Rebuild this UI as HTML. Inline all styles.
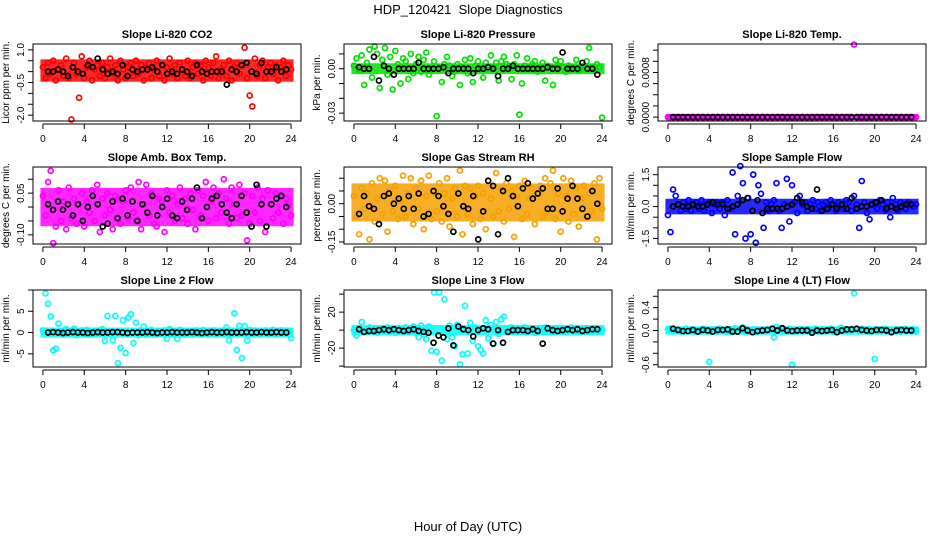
<!DOCTYPE html>
<html><head><meta charset="utf-8">
<style>
body{margin:0;background:#fff;}
svg{display:block;font-family:"Liberation Sans",Arial,sans-serif;}
.t{font-size:11px;font-weight:bold;text-anchor:middle;}
.tk{font-size:10px;text-anchor:middle;}
</style></head>
<body>
<svg id="chart" width="936" height="540" viewBox="0 0 936 540" xmlns="http://www.w3.org/2000/svg">
<text x="468" y="14" font-size="13" text-anchor="middle" xml:space="preserve">HDP_120421  Slope Diagnostics</text>
<text x="468" y="531" font-size="13" text-anchor="middle">Hour of Day (UTC)</text>
</svg>
<script>
// ---- data ----
const xTicks = [0,4,8,12,16,20,24];
const titles = ["Slope Li-820 CO2","Slope Li-820 Pressure","Slope Li-820 Temp.","Slope Amb. Box Temp.","Slope Gas Stream RH","Slope Sample Flow","Slope Line 2 Flow","Slope Line 3 Flow","Slope Line 4 (LT) Flow"];
const yTitles = ["Licor ppm per min.","kPa per min.","degrees C per min.","degrees C per min.","percent per min.","ml/min per min.","ml/min per min.","ml/min per min.","ml/min per min."];
const co2Vals=[0.2,-0.3,0.4,-0.1,0.5,-0.4,0.1,0.3,-0.2,0.6,-0.3,-2.2,0.4,-0.1,-1.2,0.7,-0.3,0.2,0.5,-0.4,0.1,0.3,-0.2,0.4,-0.3,0.2,0.6,-0.1,0.3,-0.4,0.5,0.1,-0.3,0.2,0.4,-0.2,0.5,-0.1,0.3,-0.4,0.2,0.4,-0.3,0.1,0.5,-0.2,0.3,-0.4,0.2,0.6,-0.1,0.3,-0.3,0.4,0.1,-0.2,0.5,-0.3,0.2,0.4,-0.1,0.3,-0.4,0.5,0.2,-0.2,0.4,0.7,-0.3,0.1,0.3,-0.2,0.5,-0.4,0.2,0.4,-0.1,0.3,1.1,-0.3,-1.1,-1.6,0.6,-0.2,0.3,0.5,-0.3,0.2,0.4,-0.1,0.3,-0.4,0.2,0.5,-0.2,0.3,0.1];
const co2Black=[0,0,0.1,0,-0.2,0.2,0,-0.1,0.3,0.2,0.6,0.1,-0.1,0,-0.1,0.3,-0.2,0.1,0,0.1,0.1,0.2,0,0.3,-0.1,0,-0.1,0.1,0,-0.2,0.3,0,-0.1,0,0,0,-0.6,0.1,0,0.3,0.4,0,-0.1,0.4,0,0,0.2,0,0.1];
const presVals=[0.002,0.007,-0.001,0.009,-0.011,0.004,0.013,-0.006,0.015,0.010,-0.013,0.006,0.014,-0.004,0.008,-0.014,0.012,0.003,-0.010,0.007,0.005,-0.007,0.010,-0.003,0.003,0.008,-0.002,0.006,0.011,-0.004,0,0.005,-0.032,0.001,-0.009,0.003,0.008,0.002,-0.005,-0.002,0.003,-0.011,0.001,0.006,-0.003,0.007,-0.009,0.002,0.005,0,-0.006,0.004,0.001,0.009,0.001,0.004,-0.008,0.005,0.008,0.003,0.002,-0.007,0.003,0.009,-0.031,-0.010,0.002,0.007,0.001,0.003,0.005,-0.002,0.001,0.004,-0.008,0.002,0.001,-0.011,0.006,0.002,0.005,0.001,-0.002,0.002,0.001,0,0.006,-0.001,0,0.002,0.005,0.014,0.001,0,0.003,0.001,-0.033];
const presBlack=[0.001,0,0,0.008,-0.008,0.002,0,-0.004,0,0,0,0,0.004,0,0,0,0,0.001,-0.003,0,0,0,0,-0.003,0,0,0.001,0,-0.005,0,0,0.002,0,0,0,0,0,0,0.001,0,0,0.011,0,0,0,0.004,0,0,-0.004];
const tempVals=[0,0,0,0,0,0,0,0,0,0,0,0,0,0,0,0,0,0,0,0,0,0,0,0,0,0,0,0,0,0,0,0,0,0,0,0,0,0,0,0,0,0,0,0,0,0,0,0,0,0,0,0,0,0,0,0,0,0,0,0,0,0,0,0,0,0,0,0,0,0,0,0,0.0013,0,0,0,0,0,0,0,0,0,0,0,0,0,0,0,0,0,0,0,0,0,0,0,0];
const tempBlack=[0,0,0,0,0,0,0,0,0,0,0,0,0,0,0,0,0,0,0,0,0,0,0,0,0,0,0,0,0,0,0,0,0,0,0,0,0,0,0,0,0,0,0,0,0,0,0,0,0];
const boxVals=[0.04,-0.03,0.09,0.13,-0.13,-0.07,0.06,-0.05,0.02,-0.08,0.07,-0.04,0.03,-0.06,0.01,0.05,-0.07,0.02,-0.02,0.06,-0.05,0.08,-0.09,0.03,-0.03,0.05,-0.01,-0.08,0.04,0.03,-0.06,0.02,0.06,-0.04,0.07,-0.02,-0.05,0.09,-0.08,0.01,0.08,-0.03,0.05,-0.06,-0.07,0.03,0.02,-0.09,0.06,-0.02,0.04,-0.05,0.01,0.07,-0.04,0.03,-0.06,0.05,-0.01,-0.08,0.06,-0.03,0.04,0.09,-0.05,0.02,0.07,-0.04,0.05,-0.02,0.10,0.03,-0.06,0.07,0.01,-0.04,0.08,-0.03,0.05,-0.12,-0.06,0.04,-0.02,0.07,-0.05,0.03,-0.09,0.06,0.01,-0.04,0.05,-0.02,0.04,-0.06,0.03,0.01,-0.03];
const boxBlack=[0.01,-0.01,0.02,-0.01,0.01,-0.03,0.01,-0.05,0.00,0.04,0.01,-0.07,-0.06,0.02,-0.04,0.03,-0.03,0.02,-0.05,0.01,-0.02,0.04,-0.03,0.00,0.03,-0.03,-0.04,0.02,-0.01,0.03,0.07,-0.04,0.00,0.03,0.04,0.01,-0.02,-0.04,0.01,0.04,-0.02,-0.07,0.08,0.01,-0.07,0.01,0.03,0.04,0.00];
const rhVals=[0.03,-0.05,-0.12,0.06,-0.02,0.04,-0.14,0.08,-0.07,0.02,0.10,-0.04,0.09,-0.11,0.05,-0.03,0.07,-0.06,0.01,0.11,-0.05,0.04,0.10,-0.08,0.06,-0.02,0.09,-0.10,0.03,0.11,-0.06,0.05,-0.03,0.08,-0.07,0.04,0.10,-0.09,0.02,0.06,-0.05,0.13,-0.12,0.07,-0.04,0.06,-0.08,0.03,0.07,-0.06,0.04,-0.10,0.09,0.02,-0.05,0.12,-0.03,0.06,-0.07,0.08,-0.02,0.05,-0.13,0.03,0.07,-0.06,0.09,-0.04,0.02,0.06,-0.08,0.04,0.07,-0.05,0.10,-0.03,0.08,0.13,-0.06,0.04,-0.11,0.10,0.03,-0.07,0.09,-0.04,0.06,-0.09,0.02,0.07,-0.05,0.04,-0.03,0.08,-0.14,0.10,-0.02];
const rhBlack=[-0.04,0.03,-0.01,-0.02,-0.08,0.03,0.04,0.00,0.02,-0.02,0.03,-0.02,0.04,-0.05,-0.04,0.05,0.03,-0.01,-0.04,-0.11,0.04,-0.01,-0.02,0.03,-0.14,-0.03,0.09,0.07,-0.12,0.05,0.10,0.03,-0.01,0.06,0.08,0.02,0.04,0.06,-0.02,-0.02,0.06,-0.03,0.02,0.07,0.02,-0.02,-0.05,0.05,0.00];
const flowVals=[-0.4,-1.2,0.8,0.5,0.1,-0.2,0.2,-0.1,0.3,-0.2,0.1,0.2,-0.1,0.3,-0.2,0.1,0.2,-0.3,0.1,0.2,-0.1,0.2,-0.4,0.3,-0.1,1.6,-1.3,0.5,1.9,1.1,-1.5,0.4,-1.3,1.5,-1.7,1.0,0.6,-1.0,0.2,-0.2,0.1,0.3,1.1,-0.2,-1.0,0.1,1.3,-0.7,1.0,0.2,-0.3,0.5,0.1,0.2,-0.2,0.1,0.3,-0.1,0.2,-0.2,0.1,0.2,-0.1,0.3,0.1,-0.2,0.2,0.1,-0.1,0.3,0.2,-0.2,0.5,0.1,-1.0,1.2,0.2,-0.3,-0.6,0.1,0.2,-0.1,0.3,0.1,-0.2,0.2,-0.5,0.4,0.1,-0.2,0.2,0.1,-0.1,0.2,0.1,0,0.1];
const flowBlack=[0,0.1,0,0,0.1,0,0,0.1,0.2,0.1,0.1,-0.1,0,0.1,0.3,0.4,-0.2,0.3,-0.3,-0.1,-0.1,-0.1,-0.1,0,0.1,0.4,0.2,0,-0.1,0.8,-0.2,-0.1,0.1,-0.1,0.1,-0.1,0.4,-0.1,0,0,0.1,0.2,0.3,-0.1,0,-0.1,0,0.1,0.1];
const l2Vals=[0.5,9.2,6.8,3.8,-4.2,-3.8,2.1,0.3,-0.5,0.8,-0.3,0.4,0.9,-0.6,0.3,0.5,-0.4,0.6,0.2,-0.5,0.3,-0.2,0.5,0.8,-2.0,3.9,0.3,-1.8,3.9,-7.2,-3.6,2.9,-4.8,3.5,4.3,-2.5,2.3,-0.6,0.5,1.4,-0.4,0.3,0.6,-0.5,0.2,0.4,-0.3,0.5,-1.5,0.8,-0.4,0.3,-1.5,0.6,0.4,-0.5,0.3,0.2,-0.4,0.5,0.3,-0.3,0.6,0.2,-0.4,0.3,0.5,-0.5,0.2,0.4,-0.3,1.2,-1.8,-0.4,4.5,-4.1,1.6,-6.0,1.5,-1.9,0.6,-0.3,0.5,0.2,-0.4,0.3,0.5,-0.3,0.2,0.6,-0.4,0.3,0.5,-0.2,0.4,0.3,-1.3];
const l2Black=[0,0.1,0,-0.1,0,0.1,0,0,-0.1,0,0.1,0,0,0.1,0.1,0,-0.1,0,0,0,0.1,0,-0.1,0,0,0.1,0,0,0,0.1,0,-0.1,0,0.1,0,0,0.1,0,0,0,0.1,0,0,0.1,0,0,0.1,0,0];
const l3Vals=[0,-6,2,9,-2,1,3,-1,2,-3,1,2,-1,3,-2,1,-3,2,1,-2,3,-2,1,4,-3,-8,5,-5,-10,4,-23,42,-24,42,-34,34,-10,5,-8,-18,6,-38,-27,27,-26,8,-12,3,-18,-22,-26,11,-9,6,-15,9,-4,12,15,2,-2,3,1,-2,2,-1,3,-2,1,2,-3,1,2,-1,3,-2,1,-2,2,1,-1,2,-2,1,3,-1,2,-2,1,-1,2,1,-2,1,2,-1,0];
const l3Black=[1,-2,-1,-1,0,1,0,1,0,-1,0,1,-1,-2,-3,-14,-6,-8,2,-17,4,1,0,-7,0,2,1,-15,0,-14,-2,0,0,0,-1,1,-1,-15,2,0,-1,0,1,0,1,-1,0,1,1];
const l4Vals=[0.02,0.03,-0.01,0.01,0.02,-0.02,0.01,0.03,-0.01,0.02,0,-0.02,0.01,0.02,0.03,-0.01,-0.55,0.02,0.01,-0.02,0.03,0,0.01,-0.02,0.02,0.01,0.04,-0.01,0.02,0.05,-0.02,0.01,0,0.02,-0.03,0.01,0.02,0.01,-0.01,0.02,0.03,-0.12,0.06,0.01,-0.02,0.02,0.01,0.03,-0.6,0.01,-0.02,0.02,0.01,-0.01,0.02,0.01,-0.02,0.03,0.01,0,0.02,-0.01,0.01,0.03,-0.02,0.01,0.02,0.05,0.01,-0.01,0.02,0.01,0.65,0.02,-0.01,0.03,0.01,-0.02,0.02,0.01,-0.5,0.02,-0.01,0.01,0.03,0,0.02,-0.01,0.01,0.02,-0.02,0.01,0.03,0,0.01,0.02,-0.01];
const l4Black=[0.03,0.01,-0.01,-0.01,0.01,-0.02,0.01,0,-0.02,0.01,0.01,0.02,-0.02,-0.02,0.04,0,-0.03,-0.01,0,0.01,0.03,0,0.04,0,-0.01,0,0,0,-0.04,0,-0.01,0,0.01,-0.03,0,0.02,0.02,0.03,0.01,0,-0.01,0.01,0.01,0,-0.03,0,0.01,0,0];
// dense-scatter envelope (typical spread of the many overlapping readings)
const bandLow=[-0.35,-0.002,0,-0.06,-0.06,-0.25,-0.6,-3,-0.03];
const bandHigh=[0.45,0.002,0,0.06,0.07,0.25,0.6,3,0.03];
const colorSeries=[co2Vals,presVals,tempVals,boxVals,rhVals,flowVals,l2Vals,l3Vals,l4Vals];
const blackSeries=[co2Black,presBlack,tempBlack,boxBlack,rhBlack,flowBlack,l2Black,l3Black,l4Black];
const yTickVals=[[-2,-1.5,-1,-0.5,0,0.5,1],[-0.03,-0.02,-0.01,0,0.01],[0,0.0002,0.0004,0.0006,0.0008,0.001,0.0012],[-0.1,-0.05,0,0.05,0.1],[-0.15,-0.1,-0.05,0,0.05,0.1],[-1.5,-1,-0.5,0,0.5,1,1.5],[-5,0,5,10],[-40,-20,0,20,40],[-0.6,-0.4,-0.2,0,0.2,0.4,0.6]];
const yTickLabels=[["-2.0","","","-0.5","","","1.0"],["-0.03","","","0.00",""],["0.0000","","","","0.0008","",""],["-0.10","","","0.05",""],["-0.15","","","0.00","",""],["-1.5","","","0.0","","","1.5"],["-5","0","5",""],["","-20","","20",""],["-0.6","","","0.0","","0.4",""]];
const yRanges=[[-2.27,1.27],[-0.0353,0.0167],[-0.00007,0.00131],[-0.133,0.144],[-0.158,0.144],[-1.76,1.86],[-8.1,10],[-41,44.6],[-0.64,0.71]];
// ---- layout / style ----
const colors=["#ff0000","#00e000","#ff00ff","#ff00ff","#f5a000","#0000ff","#00ffff","#00ffff","#00ffff"];
const lefts=[33,344,658], tops=[44,167,290], W=268, H=77;
const NS="http://www.w3.org/2000/svg";
const svg=document.getElementById('chart');
function mk(tag,attrs,parent){const e=document.createElementNS(NS,tag);for(const k in attrs)e.setAttribute(k,attrs[k]);(parent||svg).appendChild(e);return e;}
for(let p=0;p<9;p++){
  const L=lefts[p%3], T=tops[Math.floor(p/3)];
  const g=mk('g',{});
  
  
  const xs=h=>L+W*(h+0.96)/25.92;
  const [y0,y1]=yRanges[p];
  const ys=v=>T+H-(v-y0)/(y1-y0)*H;
  const tt=mk('text',{x:L+W/2,y:T-6,class:'t'},g);tt.textContent=titles[p];
  
  
  const yl=mk('text',{x:0,y:0,class:'tk',transform:`translate(${L-24},${T+H/2}) rotate(-90)`},g);yl.textContent=yTitles[p];
  
  
  // dense band
  const bTop=ys(bandHigh[p])-2.5, bBot=ys(bandLow[p])+2.5;
  const band=mk('rect',{x:xs(0)-2.5,y:bTop,width:xs(24)-xs(0)+5,height:bBot-bTop,fill:colors[p],opacity:0.85},g);
  
  
  // points
  const cv=colorSeries[p];
  cv.forEach((v,i)=>{const c=mk('circle',{cx:xs(i*0.25),cy:ys(v),r:2.5,fill:'none',stroke:colors[p],'stroke-width':1.7},g);
    
    });
  const bv=blackSeries[p];
  bv.forEach((v,i)=>{const c=mk('circle',{cx:xs(0.5+i*0.48),cy:ys(v),r:2.5,fill:'none',stroke:'#000','stroke-width':1.7},g);
    
    });
  mk('rect',{x:L,y:T,width:W,height:H,fill:'none',stroke:'#000','stroke-width':1},g);
  // x axis
  const ax=T+H+3;
  mk('line',{x1:xs(0),x2:xs(24),y1:ax,y2:ax,stroke:'#000'},g);
  xTicks.forEach(t=>{mk('line',{x1:xs(t),x2:xs(t),y1:ax,y2:ax+5,stroke:'#000'},g);
    const tx=mk('text',{x:xs(t),y:ax+18,class:'tk'},g);tx.textContent=t;});
  // y axis
  const yt=yTickVals[p];
  mk('line',{x1:L,x2:L,y1:ys(yt[0]),y2:ys(yt[yt.length-1]),stroke:'#000'},g);
  yt.forEach((t,i)=>{mk('line',{x1:L-5,x2:L,y1:ys(t),y2:ys(t),stroke:'#000'},g);
    const lb=yTickLabels[p][i];
    if(lb){const tx=mk('text',{x:0,y:0,class:'tk',transform:`translate(${L-9},${ys(t)}) rotate(-90)`},g);tx.textContent=lb;}});
}
</script>
</body></html>
